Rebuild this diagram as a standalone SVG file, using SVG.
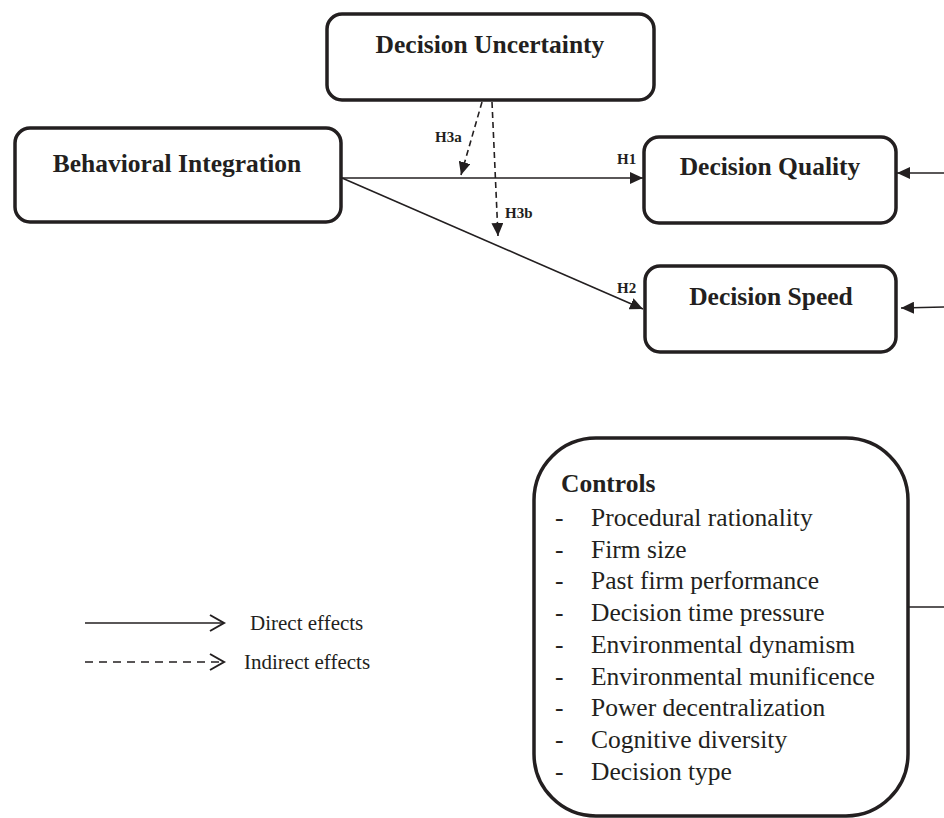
<svg xmlns="http://www.w3.org/2000/svg" width="944" height="818" viewBox="0 0 944 818">
<style>
.box{fill:#fff;stroke:#231f20;stroke-width:3.5}
.t{font-family:"Liberation Serif","Times New Roman",serif;fill:#231f20}
.b{font-weight:bold;font-size:25.5px}
.h{font-weight:bold;font-size:15px}
.it{font-size:25.5px}
.lg{font-size:21px}
.ln{stroke:#231f20;stroke-width:1.6;fill:none}
.ds{stroke-dasharray:6 4}
</style>
<defs>
<marker id="ah" markerUnits="userSpaceOnUse" markerWidth="14" markerHeight="12" refX="13" refY="6" orient="auto">
<path d="M0,0 L13,6 L0,12 z" fill="#231f20"/>
</marker>
<marker id="open" markerUnits="userSpaceOnUse" markerWidth="18" markerHeight="20" refX="15" refY="9" orient="auto">
<path d="M1,1 L15,9 L1,17" fill="none" stroke="#231f20" stroke-width="2"/>
</marker>
</defs>
<rect width="944" height="818" fill="#fff"/>
<g id="connectors">
<line class="ln" x1="342" y1="178" x2="643" y2="178" marker-end="url(#ah)"/>
<line class="ln" x1="342" y1="178" x2="643" y2="309" marker-end="url(#ah)"/>
<line class="ln ds" x1="482" y1="102" x2="461" y2="175" marker-end="url(#ah)"/>
<line class="ln ds" x1="492" y1="102" x2="498" y2="236" marker-end="url(#ah)"/>
<line class="ln" x1="944" y1="173" x2="897" y2="173" marker-end="url(#ah)"/>
<line class="ln" x1="944" y1="307" x2="901" y2="308" marker-end="url(#ah)"/>
<line class="ln" x1="908" y1="607" x2="944" y2="607" stroke-width="2"/>
<text class="t h" x="617" y="164">H1</text>
<text class="t h" x="617" y="293">H2</text>
<text class="t h" x="435" y="142">H3a</text>
<text class="t h" x="505" y="218">H3b</text>
</g>
<g id="decision-uncertainty">
<rect class="box" x="327" y="14" width="327" height="86" rx="15"/>
<text class="t b" x="490" y="53" text-anchor="middle">Decision Uncertainty</text>
</g>
<g id="behavioral-integration">
<rect class="box" x="15" y="128" width="326" height="94" rx="15"/>
<text class="t b" x="177" y="172" text-anchor="middle">Behavioral Integration</text>
</g>
<g id="decision-quality">
<rect class="box" x="644" y="137" width="252" height="86" rx="15"/>
<text class="t b" x="770" y="175" text-anchor="middle">Decision Quality</text>
</g>
<g id="decision-speed">
<rect class="box" x="645" y="266" width="251" height="86" rx="15"/>
<text class="t b" x="771" y="305" text-anchor="middle">Decision Speed</text>
</g>
<g id="controls">
<rect class="box" x="534" y="438" width="374" height="378" rx="62" stroke-width="4"/>
<text class="t b" x="561" y="492">Controls</text>
<g class="t it">
<text x="555" y="526">-</text><text x="591" y="526">Procedural rationality</text>
<text x="555" y="558">-</text><text x="591" y="558">Firm size</text>
<text x="555" y="589">-</text><text x="591" y="589">Past firm performance</text>
<text x="555" y="621">-</text><text x="591" y="621">Decision time pressure</text>
<text x="555" y="653">-</text><text x="591" y="653">Environmental dynamism</text>
<text x="555" y="685">-</text><text x="591" y="685">Environmental munificence</text>
<text x="555" y="716">-</text><text x="591" y="716">Power decentralization</text>
<text x="555" y="748">-</text><text x="591" y="748">Cognitive diversity</text>
<text x="555" y="780">-</text><text x="591" y="780">Decision type</text>
</g>
</g>
<g id="legend">
<line class="ln" x1="85" y1="623" x2="224" y2="623" stroke-width="2" marker-end="url(#open)"/>
<line class="ln" x1="85" y1="662" x2="224" y2="662" stroke-width="2" stroke-dasharray="8 6" marker-end="url(#open)"/>
<text class="t lg" x="250" y="630">Direct effects</text>
<text class="t lg" x="244" y="669">Indirect effects</text>
</g>
</svg>
